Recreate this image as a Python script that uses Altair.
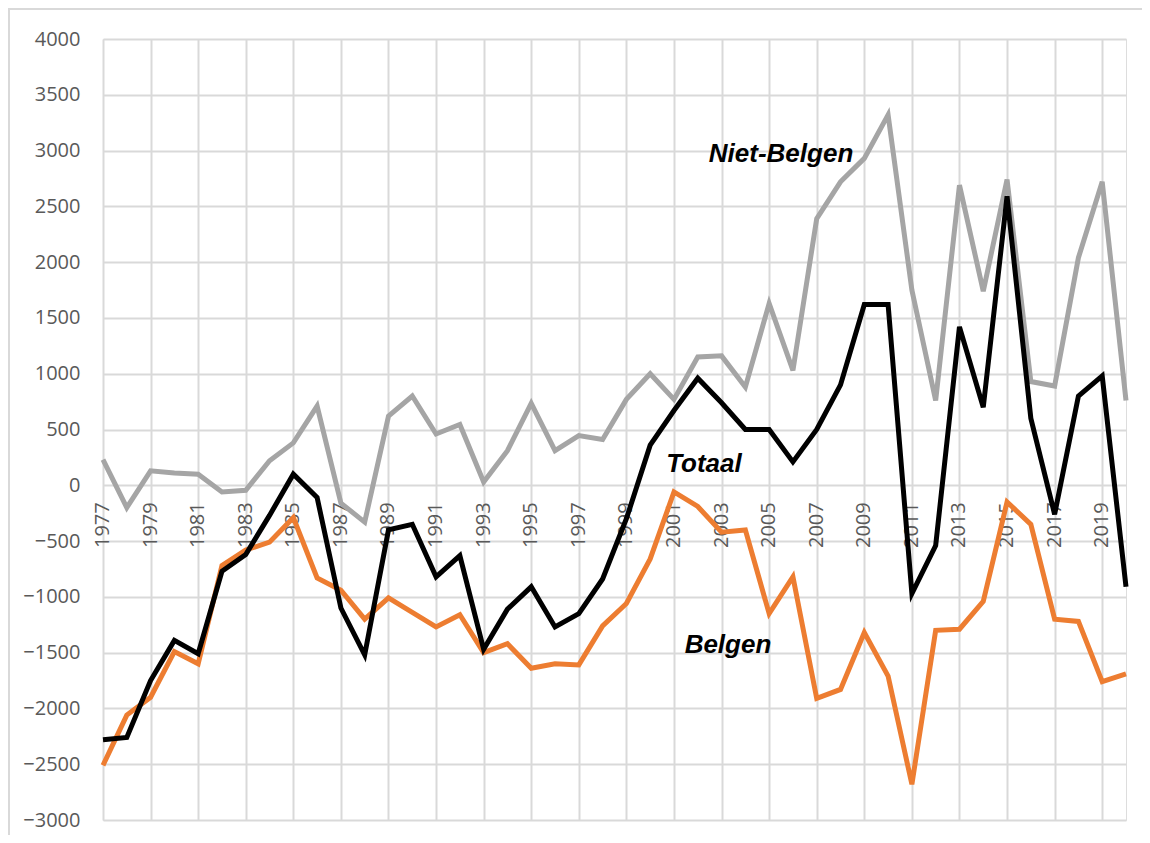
import altair as alt
import pandas as pd

years = list(range(1977, 2021))

niet_belgen = [230, -200, 130, 110, 100, -60, -45, 220, 380, 710,
               -160, -330, 620, 800, 460, 545, 30, 310, 735, 310,
               445, 410, 770, 1000, 770, 1150, 1160, 880, 1630, 1030,
               2390, 2720, 2930, 3320, 1750, 760, 2690, 1740, 2740, 930,
               890, 2040, 2720, 760]

totaal = [-2280, -2260, -1750, -1390, -1510, -770, -620, -270, 100, -110,
          -1100, -1520, -400, -350, -820, -630, -1470, -1110, -910, -1270,
          -1150, -840, -300, 360, 670, 960, 740, 500, 500, 210,
          500, 900, 1620, 1620, -970, -540, 1420, 700, 2590, 600,
          -260, 800, 980, -910]

belgen = [-2510, -2060, -1900, -1490, -1600, -720, -580, -510, -290, -830,
          -940, -1200, -1010, -1140, -1270, -1160, -1500, -1420, -1640, -1600,
          -1610, -1260, -1060, -660, -60, -190, -420, -400, -1150, -820,
          -1910, -1830, -1320, -1710, -2680, -1300, -1290, -1040, -150, -350,
          -1200, -1220, -1760, -1690]

series_names = ["Niet-Belgen", "Belgen", "Totaal"]
series_colors = ["#A5A5A5", "#ED7D31", "#000000"]

label_years = [y for y in years if y % 2 == 1]

ann_text = ["Niet-Belgen", "Totaal", "Belgen"]
ann_x = [2005.5, 2002.26, 2003.27]
ann_y = [2900, 119, -1500]

rows = []
for name, vals in zip(["Niet-Belgen", "Totaal", "Belgen"], [niet_belgen, totaal, belgen]):
    for yr, v in zip(years, vals):
        rows.append({"jaar": yr, "saldo": v, "reeks": name})
df = pd.DataFrame(rows)

lab_df = pd.DataFrame({"jaar": label_years, "saldo": [0] * len(label_years),
                       "lab": [str(y) for y in label_years]})
ann_df = pd.DataFrame({"jaar": ann_x, "saldo": ann_y, "txt": ann_text})

xscale = alt.Scale(domain=[1977, 2020], nice=False, zero=False)
yscale = alt.Scale(domain=[-3000, 4000], nice=False)

xaxis = alt.Axis(values=years, grid=True, labels=False, ticks=False, domain=False,
                 title=None, gridColor="#d9d9d9", gridWidth=2)
yaxis = alt.Axis(values=list(range(-3000, 4001, 500)), grid=True, ticks=False, domain=False,
                 title=None, gridColor="#d9d9d9", gridWidth=2, labelFont="Open Sans",
                 labelFontSize=20, labelColor="#595959", labelPadding=23, format="d")

base = alt.Chart(df).encode(
    x=alt.X("jaar:Q", scale=xscale, axis=xaxis),
    y=alt.Y("saldo:Q", scale=yscale, axis=yaxis),
)

frame = alt.Chart(pd.DataFrame({"a": [0]})).mark_rect(
    fill=None, stroke="#d9d9d9", strokeWidth=2
).encode(x=alt.value(-94), x2=alt.value(1060), y=alt.value(-30), y2=alt.value(900))

xlabels = alt.Chart(lab_df).mark_text(
    angle=270, align="right", baseline="middle", yOffset=17,
    font="Open Sans", fontSize=20, color="#595959"
).encode(
    x=alt.X("jaar:Q", scale=xscale),
    y=alt.Y("saldo:Q", scale=yscale),
    text="lab:N",
)

lines = []
for name, col in zip(series_names, series_colors):
    lines.append(
        base.transform_filter(alt.datum.reeks == name).mark_line(
            color=col, strokeWidth=5
        )
    )

ann = alt.Chart(ann_df).mark_text(
    font="Liberation Sans", fontSize=26, fontWeight="bold", fontStyle="italic",
    color="#000000", align="center", baseline="alphabetic"
).encode(
    x=alt.X("jaar:Q", scale=xscale),
    y=alt.Y("saldo:Q", scale=yscale),
    text="txt:N",
)

chart = alt.layer(base.mark_line(opacity=0), frame, xlabels, *lines, ann).properties(
    width=1023, height=781,
    autosize=alt.AutoSizeParams(type="none"),
    padding={"left": 95, "top": 31, "right": 16, "bottom": 15},
).configure_view(stroke=None).configure(background="white")

chart.save("out.html", embed_options={"renderer": "svg", "actions": False})
